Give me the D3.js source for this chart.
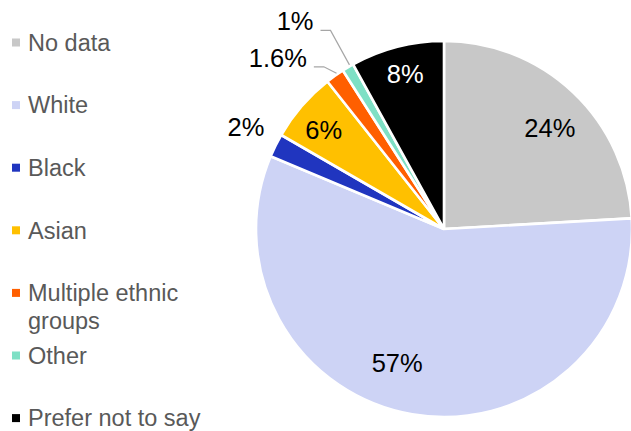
<!DOCTYPE html>
<html>
<head>
<meta charset="utf-8">
<script src="https://cdn.jsdelivr.net/npm/d3@7"></script>
<style>
  html, body { margin: 0; padding: 0; background: #ffffff; }
  svg { display: block; }
  text { font-family: "Liberation Sans", Arial, sans-serif; }
</style>
</head>
<body>
<svg id="chart" width="631" height="431"></svg>
<script>
// Ethnicity breakdown (percent of respondents)
const categories = ["No data", "White", "Black", "Asian", "Multiple ethnic groups", "Other", "Prefer not to say"];
const values = [24, 57, 2, 6, 1.6, 1, 8];
const valueLabels = ["24%", "57%", "2%", "6%", "1.6%", "1%", "8%"];
const colors = ["#c8c8c8", "#cdd3f5", "#2035bf", "#ffc000", "#ff5f00", "#7ee0c5", "#000000"];
const labelColors = ["#000", "#000", "#000", "#000", "#000", "#000", "#fff"];

// Label placement around each slice: radius as a fraction of the pie radius,
// plus a small angular nudge (degrees) from the slice bisector.
const labelRadius = [0.778, 0.755, 1.185, 0.83, 1.27, 1.36, 0.85];
const labelNudge = [3.0, 9.5, 0.9, -1.3, -8.7, -4.9, 0.4];
const hasLeader = [false, false, false, false, true, true, false];

const svg = d3.select("#chart");
const cx = 444, cy = 229, R = 188;
const labelFont = 25.5, legendFont = 23.5;

const pie = d3.pie().sort(null).value(d => d)(values);
const arc = d3.arc().innerRadius(0).outerRadius(R);

const g = svg.append("g").attr("transform", `translate(${cx},${cy})`);

g.selectAll("path.slice")
  .data(pie)
  .join("path")
  .attr("class", "slice")
  .attr("d", arc)
  .attr("fill", (d, i) => colors[i])
  .attr("stroke", "#ffffff")
  .attr("stroke-width", 2.6)
  .attr("stroke-linejoin", "miter");

// data labels
const rad = Math.PI / 180;
pie.forEach((d, i) => {
  const a = (d.startAngle + d.endAngle) / 2 + labelNudge[i] * rad;
  const r = labelRadius[i] * R;
  const x = r * Math.sin(a);
  const y = -r * Math.cos(a);
  const t = g.append("text")
    .attr("x", x)
    .attr("y", y + 0.36 * labelFont)
    .attr("text-anchor", "middle")
    .attr("font-size", labelFont)
    .attr("fill", labelColors[i])
    .text(valueLabels[i]);

  if (hasLeader[i]) {
    const w = t.node().getComputedTextLength();
    const bx = x + w / 2;
    const by = y + 0.36 * labelFont;
    const mid = (d.startAngle + d.endAngle) / 2;
    const ex = R * Math.sin(mid);
    const ey = -R * Math.cos(mid);
    g.append("polyline")
      .attr("points", [[bx + 7, by], [bx + 17, by], [ex + 1.5, ey - 2.5]].map(p => p.join(",")).join(" "))
      .attr("fill", "none")
      .attr("stroke", "#a6a6a6")
      .attr("stroke-width", 1.2);
  }
});

// legend
const legendTop = 42.5, legendStep = 62.6, lineH = 27.5;
const legend = svg.append("g");
categories.forEach((c, i) => {
  const yc = legendTop + i * legendStep;
  legend.append("rect")
    .attr("x", 12).attr("y", yc - 4)
    .attr("width", 8).attr("height", 8)
    .attr("fill", colors[i]);
  const lines = c === "Multiple ethnic groups" ? ["Multiple ethnic", "groups"] : [c];
  const t = legend.append("text")
    .attr("font-size", legendFont)
    .attr("fill", "#595959");
  lines.forEach((ln, k) => {
    t.append("tspan")
      .attr("x", 28)
      .attr("y", yc + 8.2 + k * lineH)
      .text(ln);
  });
});
</script>
</body>
</html>
